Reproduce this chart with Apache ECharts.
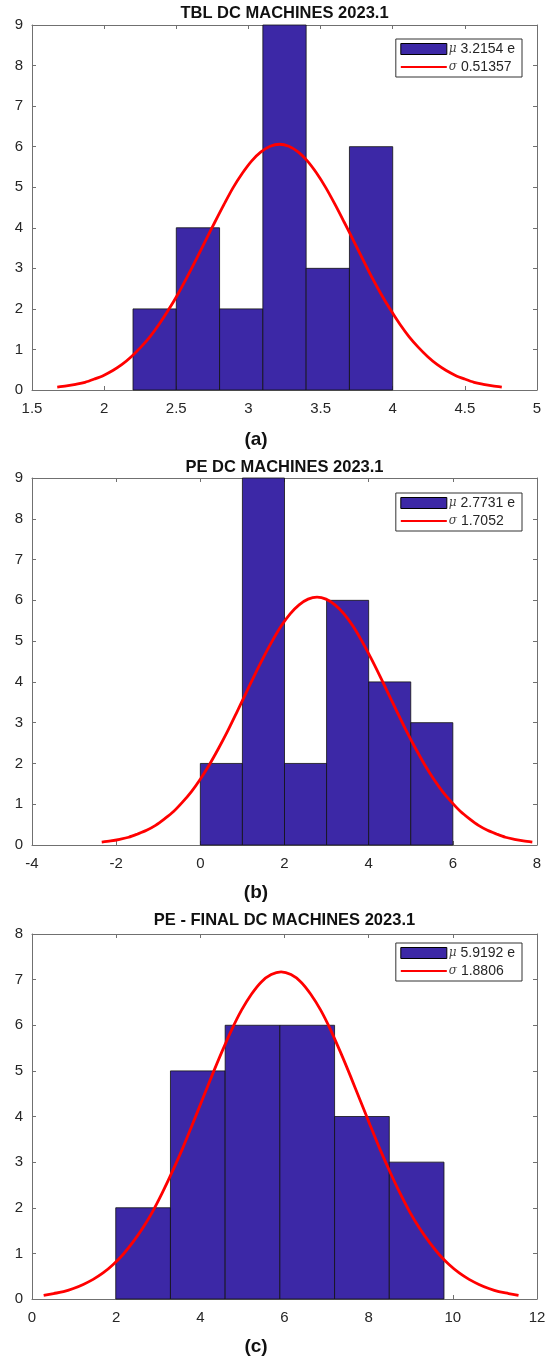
<!DOCTYPE html>
<html>
<head>
<meta charset="utf-8">
<script src="https://cdn.jsdelivr.net/npm/echarts@6/dist/echarts.min.js"></script>
<style>html,body{margin:0;padding:0;background:#fff}#c{width:549px;height:1357px}</style>
</head>
<body>
<div id="c"></div>
<script>
// ---- data ----
const titles = ['TBL DC MACHINES 2023.1', 'PE DC MACHINES 2023.1', 'PE - FINAL DC MACHINES 2023.1'];
const subLabels = ['(a)', '(b)', '(c)'];
const muLabels = ['3.2154 e', '2.7731 e', '5.9192 e'];
const sigmaLabels = ['0.51357', '1.7052', '1.8806'];

const binEdgesA = [2.2, 2.5, 2.8, 3.1, 3.4, 3.7, 4.0];
const countsA = [2, 4, 2, 9, 3, 6];
const binEdgesB = [0, 1, 2, 3, 4, 5, 6];
const countsB = [2, 9, 2, 6, 4, 3];
const binEdgesC = [1.99, 3.29, 4.59, 5.89, 7.19, 8.49, 9.79];
const countsC = [2, 5, 6, 6, 4, 3];

const curveAX = [1.675,1.739,1.803,1.867,1.932,1.996,2.060,2.124,2.188,2.253,2.317,2.381,2.445,2.509,2.573,2.638,2.702,2.766,2.830,2.894,2.959,3.023,3.087,3.151,3.215,3.280,3.344,3.408,3.472,3.536,3.601,3.665,3.729,3.793,3.857,3.922,3.986,4.050,4.114,4.178,4.243,4.307,4.371,4.435,4.499,4.564,4.628,4.692,4.756];
const curveAY = [0.07,0.10,0.14,0.19,0.27,0.36,0.48,0.63,0.82,1.05,1.31,1.62,1.97,2.35,2.77,3.22,3.68,4.13,4.57,4.99,5.35,5.65,5.87,6.01,6.06,6.01,5.87,5.65,5.35,4.99,4.57,4.13,3.68,3.22,2.77,2.35,1.97,1.62,1.31,1.05,0.82,0.63,0.48,0.36,0.27,0.19,0.14,0.10,0.07];
const curveBX = [-2.343,-2.129,-1.916,-1.703,-1.490,-1.277,-1.064,-0.851,-0.637,-0.424,-0.211,0.002,0.215,0.428,0.642,0.855,1.068,1.281,1.494,1.707,1.921,2.134,2.347,2.560,2.773,2.986,3.199,3.413,3.626,3.839,4.052,4.265,4.478,4.692,4.905,5.118,5.331,5.544,5.757,5.970,6.184,6.397,6.610,6.823,7.036,7.249,7.462,7.676,7.889];
const curveBY = [0.07,0.10,0.14,0.19,0.27,0.36,0.48,0.64,0.82,1.05,1.31,1.62,1.97,2.36,2.78,3.23,3.69,4.15,4.59,5.00,5.37,5.67,5.89,6.03,6.08,6.03,5.89,5.67,5.37,5.00,4.59,4.15,3.69,3.23,2.78,2.36,1.97,1.62,1.31,1.05,0.82,0.64,0.48,0.36,0.27,0.19,0.14,0.10,0.07];
const curveCX = [0.277,0.513,0.748,0.983,1.218,1.453,1.688,1.923,2.158,2.393,2.628,2.863,3.098,3.333,3.569,3.804,4.039,4.274,4.509,4.744,4.979,5.214,5.449,5.684,5.919,6.154,6.389,6.624,6.860,7.095,7.330,7.565,7.800,8.035,8.270,8.505,8.740,8.975,9.210,9.445,9.680,9.916,10.151,10.386,10.621,10.856,11.091,11.326,11.561];
const curveCY = [0.08,0.12,0.16,0.23,0.32,0.43,0.57,0.75,0.97,1.24,1.55,1.91,2.33,2.79,3.28,3.81,4.35,4.89,5.41,5.90,6.33,6.68,6.95,7.11,7.17,7.11,6.95,6.68,6.33,5.90,5.41,4.89,4.35,3.81,3.28,2.79,2.33,1.91,1.55,1.24,0.97,0.75,0.57,0.43,0.32,0.23,0.16,0.12,0.08];

const xMin = [1.5, -4, 0], xMax = [5, 8, 12], xStep = [0.5, 2, 2];
const yMax = [9, 9, 8];

// ---- layout/style ----
const FONT = '"Liberation Sans", Arial, Helvetica, sans-serif';
const BAR = '#3c28a6';
const AX = '#707070';
const TXT = '#262626';
const gridTops = [25, 478, 934];
const gridH = [365, 367, 365];
const titleMid = [13.5, 467.8, 920.8];
const subMid = [440, 893, 1347];
const legendTops = [39, 493, 943];

const bins = [binEdgesA, binEdgesB, binEdgesC];
const counts = [countsA, countsB, countsC];
const cx = [curveAX, curveBX, curveCX];
const cy = [curveAY, curveBY, curveCY];

const grid = [], xAxis = [], yAxis = [], series = [], legend = [], graphic = [];
for (let i = 0; i < 3; i++) {
  grid.push({left: 32, right: 12, top: gridTops[i], height: gridH[i], containLabel: false});
  const axCommon = {
    type: 'value', gridIndex: i,
    axisLine: {show: true, onZero: false, lineStyle: {color: AX, width: 1}},
    axisTick: {show: true, inside: true, length: 4, lineStyle: {color: AX}},
    splitLine: {show: false}
  };
  xAxis.push(Object.assign({}, axCommon, {
    position: 'bottom', min: xMin[i], max: xMax[i], interval: xStep[i],
    axisLabel: {color: TXT, fontSize: 15, fontFamily: FONT, margin: 11, showMinLabel: true, showMaxLabel: true}
  }));
  xAxis.push(Object.assign({}, axCommon, {
    position: 'top', min: xMin[i], max: xMax[i], interval: xStep[i], axisLabel: {show: false}
  }));
  yAxis.push(Object.assign({}, axCommon, {
    position: 'left', min: 0, max: yMax[i], interval: 1,
    axisLabel: {color: TXT, fontSize: 15, fontFamily: FONT, margin: 9}
  }));
  yAxis.push(Object.assign({}, axCommon, {
    position: 'right', min: 0, max: yMax[i], interval: 1, axisLabel: {show: false}
  }));

  const barData = counts[i].map((c, k) => [bins[i][k], bins[i][k + 1], c]);
  const muName = 'μ ' + muLabels[i];
  const sgName = 'σ ' + sigmaLabels[i];
  series.push({
    type: 'custom', name: muName, xAxisIndex: 2 * i, yAxisIndex: 2 * i,
    itemStyle: {color: BAR, borderColor: '#000', borderWidth: 1},
    renderItem: function (params, api) {
      const p0 = api.coord([api.value(0), api.value(2)]);
      const p1 = api.coord([api.value(1), 0]);
      return {
        type: 'rect',
        shape: {x: p0[0], y: p0[1], width: p1[0] - p0[0], height: p1[1] - p0[1]},
        style: {fill: BAR, stroke: '#111', lineWidth: 0.8}
      };
    },
    encode: {x: [0, 1], y: 2},
    data: barData, silent: true, animation: false
  });
  series.push({
    type: 'line', name: sgName, xAxisIndex: 2 * i, yAxisIndex: 2 * i,
    data: cx[i].map((x, k) => [x, cy[i][k]]),
    smooth: 0.3, symbol: 'none', showSymbol: false,
    lineStyle: {color: '#ff0000', width: 2.8}, itemStyle: {color: '#ff0000'},
    silent: true, animation: false, z: 5
  });
  legend.push({
    right: 27, top: legendTops[i], orient: 'vertical',
    itemWidth: 46, itemHeight: 11, itemGap: 4,
    padding: [3, 7, 3, 4],
    backgroundColor: '#fff', borderColor: '#333', borderWidth: 1,
    selectedMode: false,
    data: [
      {name: muName, icon: 'rect', itemStyle: {color: BAR, borderColor: '#000', borderWidth: 1}},
      {name: sgName, itemStyle: {color: 'rgba(0,0,0,0)', borderColor: 'rgba(0,0,0,0)', borderWidth: 0}}
    ],
    formatter: function (name) {
      return '{g|' + name.charAt(0) + '} ' + name.slice(2);
    },
    textStyle: {
      color: TXT, fontSize: 14, fontFamily: FONT, padding: [0, 0, 0, -3],
      rich: {g: {fontFamily: '"DejaVu Serif", "Liberation Serif", serif', fontStyle: 'italic', fontSize: 12, color: '#444'}}
    }
  });
  graphic.push({
    type: 'text', x: 284.5, y: titleMid[i], silent: true,
    style: {text: titles[i], fontSize: 16.5, fontWeight: 'bold', fontFamily: FONT, fill: '#111', textAlign: 'center', textVerticalAlign: 'middle'}
  });
  graphic.push({
    type: 'text', x: 256, y: subMid[i], silent: true,
    style: {text: subLabels[i], fontSize: 19, fontWeight: 'bold', fontFamily: FONT, fill: '#111', textAlign: 'center', textVerticalAlign: 'middle'}
  });
}

const chart = echarts.init(document.getElementById('c'), null, {renderer: 'canvas'});
chart.setOption({
  animation: false,
  backgroundColor: '#fff',
  grid, xAxis, yAxis, series, legend, graphic
});
</script>
</body>
</html>
